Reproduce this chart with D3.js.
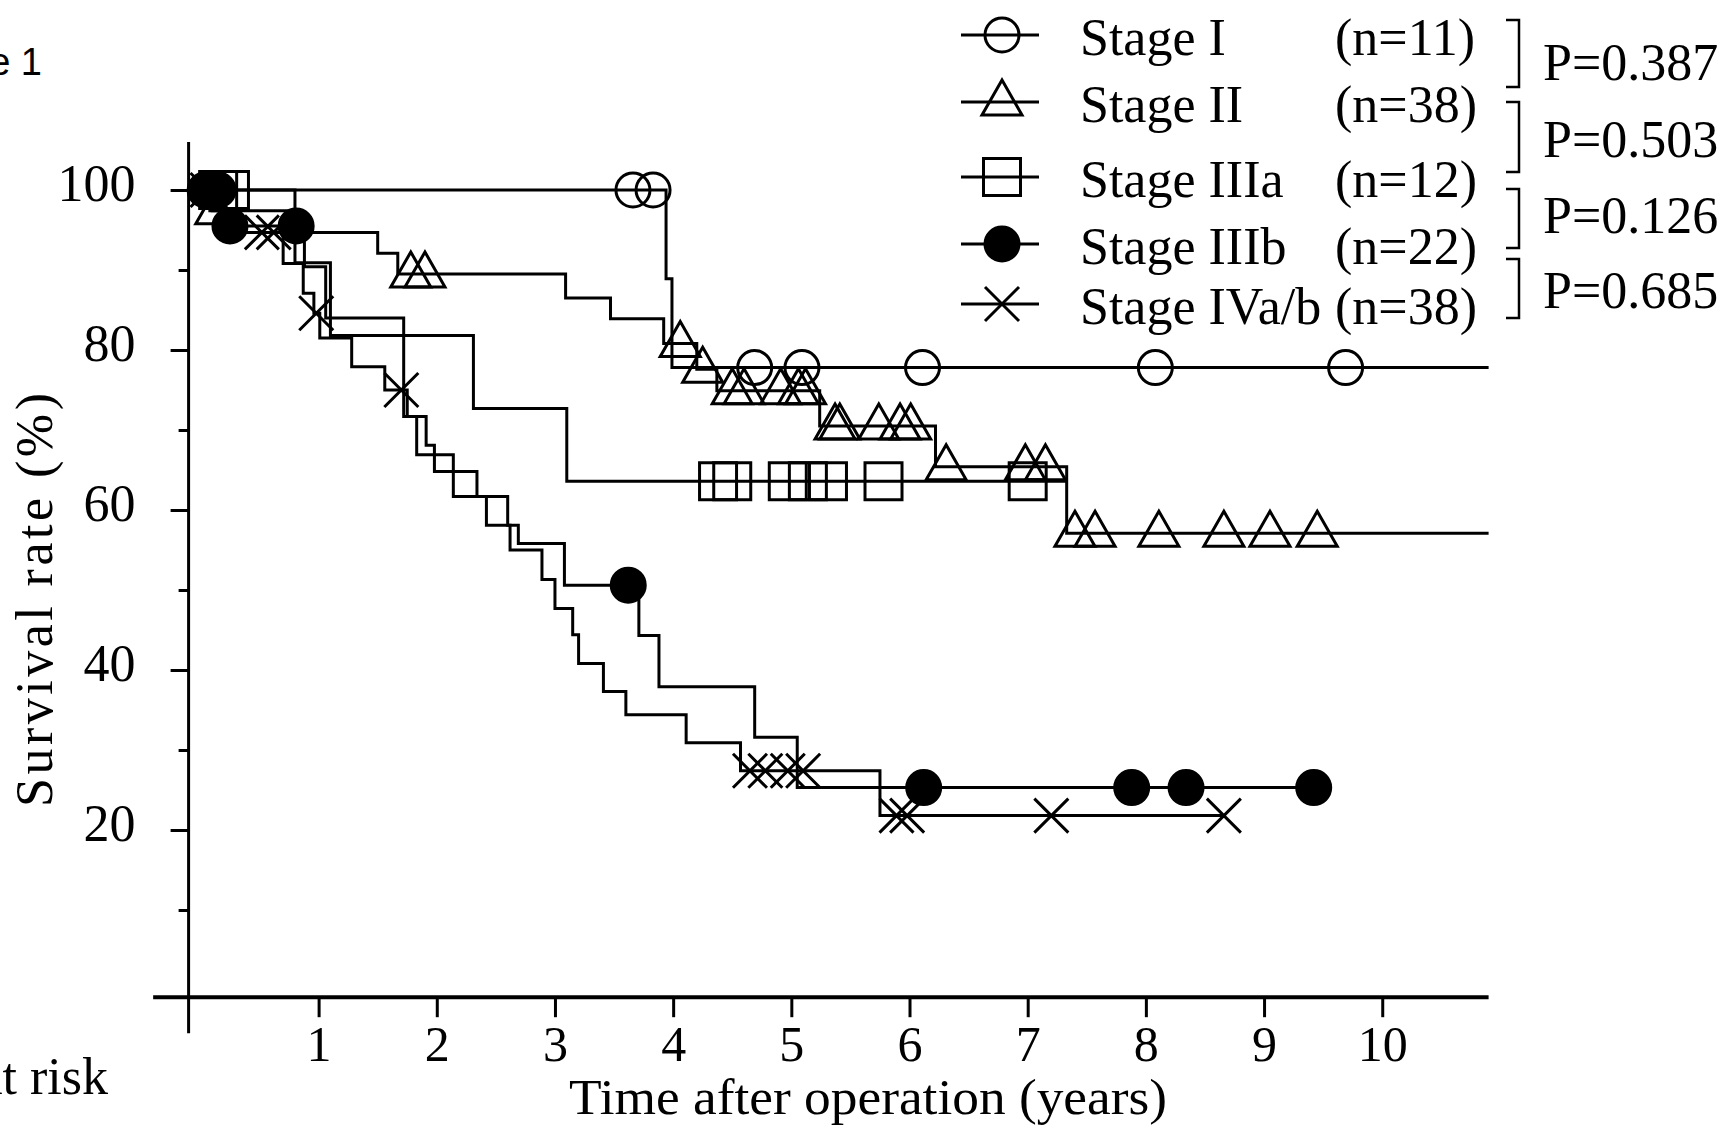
<!DOCTYPE html>
<html>
<head>
<meta charset="utf-8">
<title>Survival rate by stage</title>
<script src="https://cdn.jsdelivr.net/npm/d3@7/dist/d3.min.js"></script>
<style>
  body { margin: 0; background: #fff; }
  svg { display: block; }
  text { font-family: "Liberation Serif", "Times New Roman", serif; fill: #000; }
</style>
</head>
<body>
<script>
// Kaplan-Meier steps [years, survival %], censor times in years
var stageISteps = [[0, 100], [3.94, 88.9], [3.99, 77.8]];
var stageICens = [0.06, 0.14, 3.66, 3.83, 4.69, 5.09, 6.11, 8.08, 9.69];

var stageIISteps = [[0, 100], [0.08, 97.4], [0.80, 94.7], [1.50, 92.1], [1.67, 89.5], [3.09, 86.5],
                    [3.47, 83.9], [3.92, 80.8], [4.20, 77.6], [4.37, 74.9], [5.24, 70.5], [6.22, 65.4], [7.33, 57.1]];
var stageIICens = [0.13, 1.78, 1.90, 4.06, 4.25, 4.50, 4.60, 4.91, 5.06, 5.12, 5.37, 5.41, 5.74, 5.92, 6.01,
                   6.31, 6.98, 7.15, 7.40, 7.57, 8.11, 8.66, 9.05, 9.45];

var stageIIIaSteps = [[0, 100], [0.80, 90.9], [1.10, 81.8], [2.31, 72.7], [3.10, 63.6]];
var stageIIIaCens = [0.15, 0.25, 4.38, 4.50, 4.97, 5.14, 5.31, 5.78, 7.00];

var stageIIIbSteps = [[0, 100], [0.18, 95.5], [0.88, 90.4], [1.06, 84.0], [1.72, 71.7], [1.91, 68.1],
                      [1.98, 64.8], [2.34, 61.7], [2.60, 58.1], [2.69, 55.8], [3.08, 50.6], [3.71, 44.3],
                      [3.88, 37.9], [4.69, 31.6], [5.05, 25.3]];
var stageIIIbCens = [0.04, 0.10, 0.15, 0.25, 0.81, 3.62, 6.12, 7.88, 8.34, 9.42];

var stageIVSteps = [[0, 100], [0.10, 97.4], [0.30, 94.7], [0.70, 90.8], [0.87, 87.1], [0.96, 84.6],
                    [1.01, 81.5], [1.28, 77.9], [1.56, 75.0], [1.75, 71.7], [1.83, 66.9], [2.14, 61.7],
                    [2.42, 58.1], [2.62, 55.0], [2.89, 51.3], [3.00, 47.7], [3.15, 44.4], [3.20, 40.8],
                    [3.41, 37.3], [3.60, 34.4], [4.11, 30.9], [4.57, 27.4], [5.75, 21.8]];
var stageIVCens = [0.06, 0.52, 0.62, 0.98, 1.70, 4.65, 4.78, 4.97, 5.10, 5.89, 5.98, 7.20, 8.66];

// last follow-up time drawn for each curve
var curveEnds = [10.9, 10.9, 7.33, 9.42, 8.66];

var stageNames = ["Stage I", "Stage II", "Stage IIIa", "Stage IIIb", "Stage IVa/b"];
var stageN = ["(n=11)", "(n=38)", "(n=12)", "(n=22)", "(n=38)"];
var pValues = ["P=0.387", "P=0.503", "P=0.126", "P=0.685"];

var xTicks = [1, 2, 3, 4, 5, 6, 7, 8, 9, 10];
var yMajor = [20, 40, 60, 80, 100];
var yMinor = [10, 30, 50, 70, 90];

var series = [
  {steps: stageISteps, cens: stageICens, end: curveEnds[0], shape: "circle"},
  {steps: stageIISteps, cens: stageIICens, end: curveEnds[1], shape: "triangle"},
  {steps: stageIIIaSteps, cens: stageIIIaCens, end: curveEnds[2], shape: "square"},
  {steps: stageIIIbSteps, cens: stageIIIbCens, end: curveEnds[3], shape: "dot"},
  {steps: stageIVSteps, cens: stageIVCens, end: curveEnds[4], shape: "cross"}
];

var width = 1733, height = 1127;
var serif = "'Liberation Serif', 'Times New Roman', serif";

var svg = d3.select("body").append("svg")
    .attr("width", width)
    .attr("height", height);

svg.append("rect").attr("width", width).attr("height", height).attr("fill", "#fff");

var x = d3.scaleLinear().domain([-0.1, 10.9]).range([188.6, 1488.6]);
var y = d3.scaleLinear().domain([0, 100]).range([990, 190]);

// marker shapes
var shapes = {
  circle: d3.symbol(d3.symbolCircle, Math.PI * 17 * 17)(),
  dot: d3.symbol(d3.symbolCircle, Math.PI * 17 * 17)(),
  triangle: "M0,-22L20,13L-20,13Z",
  square: "M-18.5,-18.5h37v37h-37Z",
  cross: "M-17,-17L17,17M-17,17L17,-17"
};

function levelAt(steps, t) {
  var v = steps[0][1];
  steps.forEach(function(d) { if (d[0] <= t) v = d[1]; });
  return v;
}

// axes
var axisX0 = x.domain()[0];
svg.append("line")
    .attr("x1", x(axisX0)).attr("x2", x(axisX0))
    .attr("y1", y(106)).attr("y2", y(-5.4))
    .attr("stroke", "#000").attr("stroke-width", 3);

svg.append("line")
    .attr("x1", x(-0.4)).attr("x2", x(10.9))
    .attr("y1", y(-0.9)).attr("y2", y(-0.9))
    .attr("stroke", "#000").attr("stroke-width", 4);

var yAxis = d3.axisLeft(y).tickValues(yMajor).tickSize(18).tickPadding(35).tickSizeOuter(0);
var gy = svg.append("g")
    .attr("transform", "translate(" + x(axisX0) + ",0)")
    .call(yAxis)
    .attr("font-size", 52)
    .attr("font-family", serif);
gy.select(".domain").remove();
gy.selectAll(".tick line").attr("stroke-width", 3);
gy.selectAll(".tick text").attr("dy", "0.2em");

var yAxisMinor = d3.axisLeft(y).tickValues(yMinor).tickSize(10).tickFormat("").tickSizeOuter(0);
var gy2 = svg.append("g")
    .attr("transform", "translate(" + x(axisX0) + ",0)")
    .call(yAxisMinor);
gy2.select(".domain").remove();
gy2.selectAll(".tick line").attr("stroke-width", 3);

var xAxis = d3.axisBottom(x).tickValues(xTicks).tickSize(20).tickPadding(8).tickSizeOuter(0);
var gx = svg.append("g")
    .attr("transform", "translate(0," + y(-0.9) + ")")
    .call(xAxis)
    .attr("font-size", 50)
    .attr("font-family", serif);
gx.select(".domain").remove();
gx.selectAll(".tick line").attr("stroke-width", 3);

// axis titles
svg.append("text")
    .attr("x", 868).attr("y", 1114)
    .attr("text-anchor", "middle")
    .attr("font-size", 50)
    .attr("textLength", 598)
    .attr("lengthAdjust", "spacingAndGlyphs")
    .text("Time after operation (years)");

svg.append("text")
    .attr("transform", "translate(52,600) rotate(-90)")
    .attr("text-anchor", "middle")
    .attr("font-size", 52)
    .attr("textLength", 414)
    .attr("lengthAdjust", "spacing")
    .text("Survival rate (%)");

svg.append("text")
    .attr("x", 108).attr("y", 1094)
    .attr("text-anchor", "end")
    .attr("font-size", 52)
    .text("No. at risk");

svg.append("text")
    .attr("x", 42).attr("y", 75)
    .attr("text-anchor", "end")
    .attr("font-size", 38)
    .style("font-family", "'Liberation Sans', Arial, sans-serif")
    .text("Figure 1");

// survival curves
var line = d3.line()
    .x(function(d) { return x(d[0]); })
    .y(function(d) { return y(d[1]); })
    .curve(d3.curveStepAfter);

series.forEach(function(s) {
  var pts = [[axisX0, 100]].concat(s.steps);
  pts.push([s.end, s.steps[s.steps.length - 1][1]]);
  svg.append("path")
      .attr("d", line(pts))
      .attr("fill", "none")
      .attr("stroke", "#000")
      .attr("stroke-width", 3);
});

series.forEach(function(s) {
  svg.append("g").selectAll("path")
      .data(s.cens)
      .enter()
      .append("path")
      .attr("transform", function(t) { return "translate(" + x(t) + "," + y(levelAt(s.steps, t)) + ")"; })
      .attr("d", shapes[s.shape])
      .attr("fill", s.shape === "dot" ? "#000" : "none")
      .attr("stroke", "#000")
      .attr("stroke-width", 3);
});

// legend
var legendY = [35, 102, 177, 244, 304];
var legend = svg.append("g");
series.forEach(function(s, i) {
  var ly = legendY[i];
  legend.append("line")
      .attr("x1", 961).attr("x2", 1039)
      .attr("y1", ly).attr("y2", ly)
      .attr("stroke", "#000").attr("stroke-width", 3);
  legend.append("path")
      .attr("transform", "translate(1002," + ly + ")")
      .attr("d", shapes[s.shape])
      .attr("fill", s.shape === "dot" ? "#000" : "none")
      .attr("stroke", "#000").attr("stroke-width", 3);
  legend.append("text")
      .attr("x", 1080).attr("y", ly + 20)
      .attr("font-size", 52)
      .text(stageNames[i]);
  legend.append("text")
      .attr("x", 1335).attr("y", ly + 20)
      .attr("font-size", 52)
      .text(stageN[i]);
});

var bracketSpans = [[20, 87], [102, 172], [189, 248], [259, 318]];
var pBase = [80, 157, 233, 308];
bracketSpans.forEach(function(b, i) {
  legend.append("path")
      .attr("d", "M1506," + b[0] + "H1519V" + b[1] + "H1506")
      .attr("fill", "none")
      .attr("stroke", "#000").attr("stroke-width", 2.5);
  legend.append("text")
      .attr("x", 1543).attr("y", pBase[i])
      .attr("font-size", 52)
      .text(pValues[i]);
});
</script>
</body>
</html>
